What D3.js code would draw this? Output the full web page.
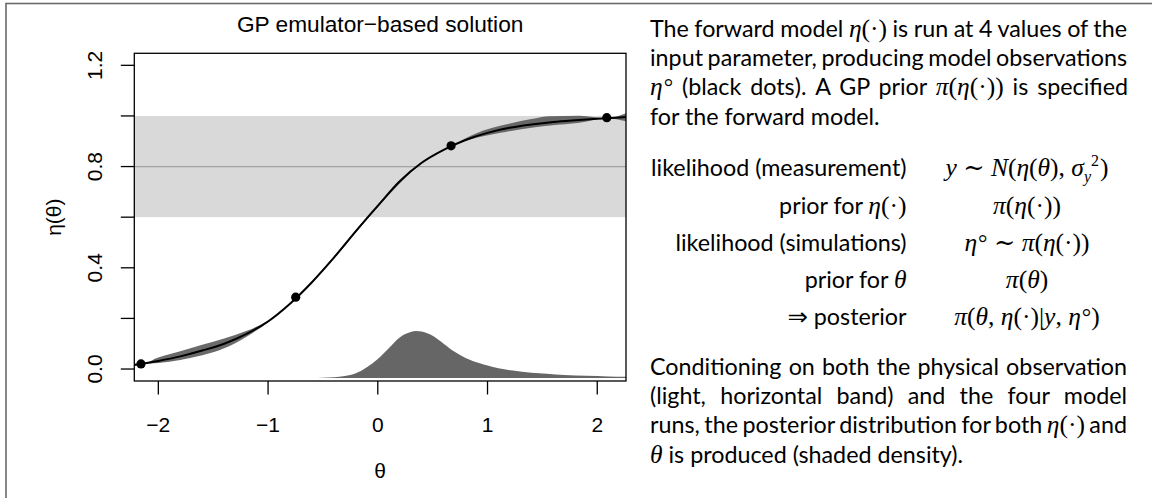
<!DOCTYPE html>
<html><head><meta charset="utf-8">
<script src="https://cdn.jsdelivr.net/npm/d3@7"></script>
<style>body{margin:0;background:#fff}svg{display:block}</style>
</head><body>
<svg id="c" width="1152" height="498"></svg>
<script>
// ---------- data ----------
const xTicks = [-2, -1, 0, 1, 2];
const yTicks = [0, 0.2, 0.4, 0.6, 0.8, 1.0, 1.2];
const yTickLabels = ["0.0", "", "0.4", "", "0.8", "", "1.2"];
const obsValue = 0.8;
const obsBand = [0.6, 1.0];
const runTheta = [-2.158, -0.748, 0.668, 2.087];
const runEta = [0.020, 0.284, 0.882, 0.993];
const curveTheta = [-2.22,-2.0,-1.8,-1.6,-1.4,-1.2,-1.0,-0.8,-0.6,-0.4,-0.2,0,0.2,0.4,0.6,0.8,1.0,1.2,1.4,1.6,1.8,2.0,2.2,2.27];
const curveEta = [0.016,0.032,0.050,0.073,0.100,0.138,0.188,0.258,0.343,0.44,0.545,0.645,0.742,0.815,0.866,0.905,0.933,0.953,0.966,0.976,0.983,0.989,0.994,0.996];
const bandTheta = [-2.22,-2.158,-2.0,-1.8,-1.6,-1.4,-1.2,-1.0,-0.9,-0.748,-0.4,0,0.4,0.668,0.9,1.176,1.4,1.57,1.84,2.087,2.27];
const bandUpper = [0.022,0.020,0.046,0.070,0.096,0.121,0.150,0.192,0.223,0.283,0.444,0.650,0.818,0.881,0.932,0.967,0.988,0.999,1.001,0.991,1.012];
const bandLower = [0.013,0.020,0.024,0.036,0.054,0.082,0.127,0.185,0.221,0.283,0.436,0.640,0.812,0.881,0.914,0.938,0.953,0.962,0.973,0.991,0.978];
const postTheta = [-0.6,-0.5,-0.4,-0.3,-0.2,-0.1,0,0.1,0.2,0.3,0.35,0.4,0.5,0.6,0.7,0.8,0.93,1.0,1.1,1.23,1.4,1.54,1.7,1.9,2.1,2.27];
const postDens = [0,0.001,0.003,0.007,0.018,0.042,0.075,0.117,0.160,0.181,0.185,0.183,0.166,0.135,0.103,0.079,0.058,0.049,0.038,0.029,0.020,0.016,0.011,0.008,0.0055,0.004];
const postBase = -0.035;
const titleText = "GP emulator\u2212based solution";

// text panel: segments [text, kind]
const para1 = [
  {j:true, segs:[["The forward model ","s"],["η","i"],["(·)","r"],[" is run at 4 values of the","s"]]},
  {j:true, segs:[["input parameter, producing model observations","s"]]},
  {j:true, segs:[["η","i"],["°","deg"],[" (black dots). A GP prior ","s"],["π","i"],["(","r"],["η","i"],["(·))","r"],[" is specified","s"]]},
  {j:false, segs:[["for the forward model.","s"]]}
];
const eqLeft = [
  [["likelihood (measurement)","s"]],
  [["prior for ","s"],["η","i"],["(·)","r"]],
  [["likelihood (simulations)","s"]],
  [["prior for ","s"],["θ","i"]],
  [["⇒","arrow"],[" posterior","s"]]
];
const eqRight = [
  [["y","i"],[" ∼ ","r"],["N","i"],["(","r"],["η","i"],["(","r"],["θ","i"],["), ","r"],["σ","i"],["y","sub"],["2","supx"],[")","rr"]],
  [["π","i"],["(","r"],["η","i"],["(·))","r"]],
  [["η","i"],["°","deg"],[" ∼ ","r"],["π","i"],["(","r"],["η","i"],["(·))","r"]],
  [["π","i"],["(","r"],["θ","i"],[")","r"]],
  [["π","i"],["(","r"],["θ","i"],[", ","r"],["η","i"],["(·)|","r"],["y","i"],[", ","r"],["η","i"],["°","deg"],[")","r"]]
];
const para2 = [
  {j:true, segs:[["Conditioning on both the physical observation","s"]]},
  {j:true, segs:[["(light, horizontal band) and the four model","s"]]},
  {j:true, segs:[["runs, the posterior distribution for both ","s"],["η","i"],["(·)","r"],[" and","s"]]},
  {j:false, segs:[["θ","i"],[" is produced (shaded density).","s"]]}
];

// ---------- drawing ----------
const svg = d3.select("#c");
svg.append("rect").attr("width",1152).attr("height",498).attr("fill","#fff");
svg.append("rect").attr("x",6).attr("y",3.5).attr("width",1300).attr("height",700)
  .attr("fill","none").attr("stroke","#6a6a6a").attr("stroke-width",1.6);

const L = 134.3, R = 626, T = 53.3, B = 381;
const x = d3.scaleLinear().domain([-2.219, 2.262]).range([L, R]);
const y = d3.scaleLinear().domain([-0.0473, 1.2475]).range([B, T]);

svg.append("clipPath").attr("id","clip").append("rect")
  .attr("x",L).attr("y",T).attr("width",R-L).attr("height",B-T);
const plot = svg.append("g").attr("clip-path","url(#clip)");

plot.append("rect").attr("x",L).attr("width",R-L)
  .attr("y",y(obsBand[1])).attr("height",y(obsBand[0])-y(obsBand[1]))
  .attr("fill","#d9d9d9");
plot.append("line").attr("x1",L).attr("x2",R).attr("y1",y(obsValue)).attr("y2",y(obsValue))
  .attr("stroke","#a3a3a3").attr("stroke-width",1.3);

const dens = postTheta.map((t,i)=>({t, d:postDens[i]}));
plot.append("path").datum(dens)
  .attr("d", d3.area().x(d=>x(d.t)).y0(y(postBase)).y1(d=>y(postBase+d.d)).curve(d3.curveMonotoneX))
  .attr("fill","#666666");

const band = bandTheta.map((t,i)=>({t, u:bandUpper[i], l:bandLower[i]}));
plot.append("path").datum(band)
  .attr("d", d3.area().x(d=>x(d.t)).y0(d=>y(d.l)).y1(d=>y(d.u)).curve(d3.curveMonotoneX))
  .attr("fill","#5a5a5a").attr("fill-opacity",0.9);

const cur = curveTheta.map((t,i)=>({t, e:curveEta[i]}));
plot.append("path").datum(cur)
  .attr("d", d3.line().x(d=>x(d.t)).y(d=>y(d.e)).curve(d3.curveMonotoneX))
  .attr("fill","none").attr("stroke","#000").attr("stroke-width",2);

plot.selectAll("circle.run").data(runTheta).enter().append("circle")
  .attr("cx",d=>x(d)).attr("cy",(d,i)=>y(runEta[i])).attr("r",4.6).attr("fill","#000");

svg.append("rect").attr("x",L).attr("y",T).attr("width",R-L).attr("height",B-T)
  .attr("fill","none").attr("stroke","#000").attr("stroke-width",1.3);

const ax = svg.append("g").attr("font-family","'Liberation Sans', Arial, sans-serif").attr("font-size",21);
xTicks.forEach(v=>{
  ax.append("line").attr("x1",x(v)).attr("x2",x(v)).attr("y1",B).attr("y2",B+13.5).attr("stroke","#000").attr("stroke-width",1.3);
  ax.append("text").attr("x",x(v)).attr("y",432).attr("text-anchor","middle").text(v<0?"\u2212"+Math.abs(v):String(v));
});
yTicks.forEach((v,i)=>{
  ax.append("line").attr("x1",L-13.5).attr("x2",L).attr("y1",y(v)).attr("y2",y(v)).attr("stroke","#000").attr("stroke-width",1.3);
  if (yTickLabels[i]) ax.append("text").attr("transform",`translate(101.5,${y(v)}) rotate(-90)`).attr("text-anchor","middle").text(yTickLabels[i]);
});
ax.append("text").attr("x",(L+R)/2).attr("y",477.5).attr("text-anchor","middle").text("θ");
ax.append("text").attr("transform",`translate(61,${(T+B)/2}) rotate(-90)`).attr("text-anchor","middle").text("η(θ)");
ax.append("text").attr("x",(L+R)/2).attr("y",31.7).attr("text-anchor","middle").attr("font-size",22.7).text(titleText);

// ---------- text panel ----------
const SANS = "Lato, 'Open Sans', sans-serif";
const SERIF = "'Liberation Serif', 'DejaVu Serif', serif";
const FS = 23.3, MS = 25.5;
const tp = svg.append("g").attr("font-size",FS).attr("fill","#000");
function rich(xp, yp, segs, anchor){
  const t = tp.append("text").attr("x",xp).attr("y",yp).attr("text-anchor",anchor||"start").style("white-space","pre");
  segs.forEach(([txt,k])=>{
    const ts = t.append("tspan").text(txt);
    if (k==="s") ts.attr("font-family",SANS);
    else if (k==="i") ts.attr("font-family",SERIF).attr("font-style","italic").attr("font-size",MS);
    else if (k==="r") ts.attr("font-family",SERIF).attr("font-size",MS);
    else if (k==="deg") ts.attr("font-family",SERIF).attr("font-size",MS-2).attr("dx",1);
    else if (k==="arrow") ts.attr("font-family","'DejaVu Sans', sans-serif").attr("font-size",FS+1);
    else if (k==="sub") ts.attr("font-family",SERIF).attr("font-style","italic").attr("font-size",16).attr("dy",6);
    else if (k==="supx") ts.attr("font-family",SERIF).attr("font-size",16).attr("dx",0).attr("dy",-16);
    else if (k==="rr") ts.attr("font-family",SERIF).attr("font-size",MS).attr("dx",1).attr("dy",10);
  });
  return t;
}
function para(lines, y0, step){
  lines.forEach((ln,i)=>{
    const t = rich(650, y0+i*step, ln.segs);
    if (ln.j){
      const w = t.node().getComputedTextLength();
      const n = ln.segs.map(s=>s[0]).join("").split(" ").length-1;
      t.attr("word-spacing", (1127-650-w)/n);
    }
  });
}
para(para1, 36.5, 29.4);
const eqY = [176, 213.5, 250.5, 288, 325];
eqLeft.forEach((s,i)=>rich(906.5, eqY[i], s, "end"));
eqRight.forEach((s,i)=>rich(1027, eqY[i], s, "middle"));
para(para2, 375, 29.2);
</script>
</body></html>
